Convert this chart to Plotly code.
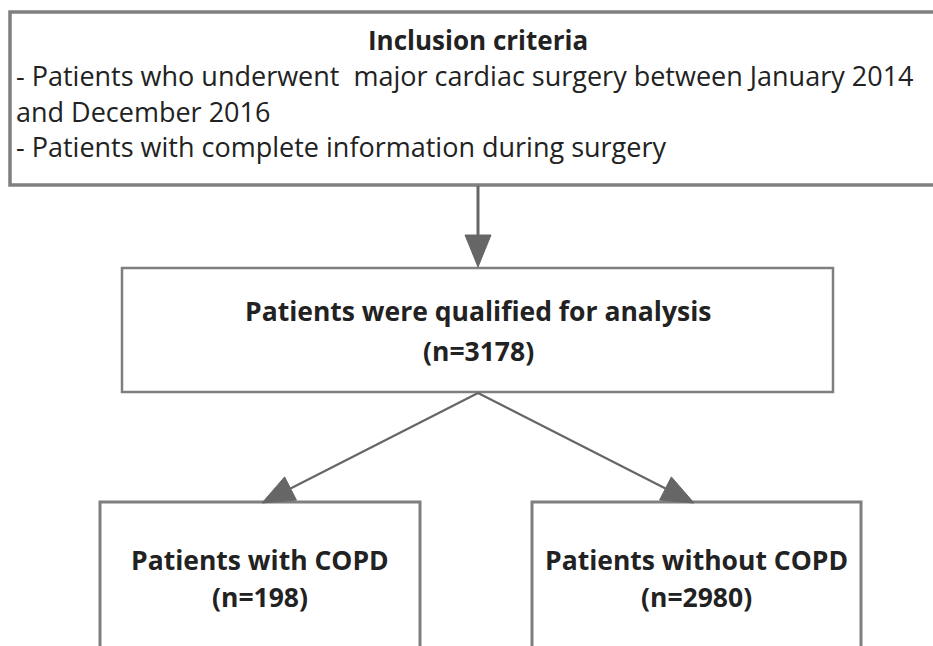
import plotly.graph_objects as go
import math

# ---- content ----
top_title = "Inclusion criteria"
top_lines = [
    "- Patients who underwent  major cardiac surgery between January 2014",
    "and December 2016",
    "- Patients with complete information during surgery",
]
mid_label = "Patients were qualified for analysis"
mid_n = 3178
group_labels = ["Patients with COPD", "Patients without COPD"]
group_n = [198, 2980]

W, H = 933, 646
BORDER = "#7f7f7f"
ARROW = "#666666"
TXT = "#222222"
FONT = "Open Sans"

fig = go.Figure()
shapes = []
ann = []

def box(x0, y0, x1, y1, w):
    shapes.append(dict(type="rect", x0=x0, y0=y0, x1=x1, y1=y1, xref="x", yref="y",
                       line=dict(color=BORDER, width=w), fillcolor="white", layer="below"))

def arrow(x0, y0, x1, y1, lw, L=32, hw=13):
    dx, dy = x1 - x0, y1 - y0
    d = math.hypot(dx, dy)
    ux, uy = dx / d, dy / d
    bx, by = x1 - ux * L, y1 - uy * L
    shapes.append(dict(type="line", x0=x0, y0=y0, x1=bx, y1=by, xref="x", yref="y",
                       line=dict(color=ARROW, width=lw)))
    px, py = -uy, ux
    path = (f"M {x1},{y1} L {bx + px*hw},{by + py*hw} L {bx - px*hw},{by - py*hw} Z")
    shapes.append(dict(type="path", path=path, xref="x", yref="y",
                       fillcolor=ARROW, line=dict(color=ARROW, width=1)))

# boxes
box(10, 12, 945, 185, 3.5)
box(122, 268, 833, 392, 2.5)
box(100, 502, 420, 700, 3)
box(532, 502, 861, 700, 3)

# arrows
arrow(478, 186, 478, 267, 3)
arrow(478, 393, 262, 503, 2.2)
arrow(478, 393, 694, 503, 2.2)

def text(x, y, s, size, bold=False, xanchor="center"):
    ann.append(dict(x=x, y=y, xref="x", yref="y", text=f"<b>{s}</b>" if bold else s,
                    showarrow=False, xanchor=xanchor, yanchor="middle",
                    font=dict(family=FONT, size=size, color=TXT)))

text(478, 40, top_title, 26, bold=True)
for i, line in enumerate(top_lines):
    text(14, 75.5 + 35.5 * i, line, 27, xanchor="left")

text(478, 311, mid_label, 26.5, bold=True)
text(478, 351, f"(n={mid_n})", 26.5, bold=True)

for cx, lab, n in zip([260, 696], group_labels, group_n):
    text(cx, 560, lab, 26.5, bold=True)
    text(cx, 597, f"(n={n})", 26.5, bold=True)

fig.update_layout(
    width=W, height=H, margin=dict(l=0, r=0, t=0, b=0),
    paper_bgcolor="white", plot_bgcolor="white",
    xaxis=dict(range=[0, W], visible=False, fixedrange=True),
    yaxis=dict(range=[H, 0], visible=False, fixedrange=True),
    shapes=shapes, annotations=ann, showlegend=False,
)
fig.write_html("out.html", config={"displayModeBar": False, "staticPlot": True},
               post_script="document.body.style.margin='0';document.body.style.overflow='hidden';")
